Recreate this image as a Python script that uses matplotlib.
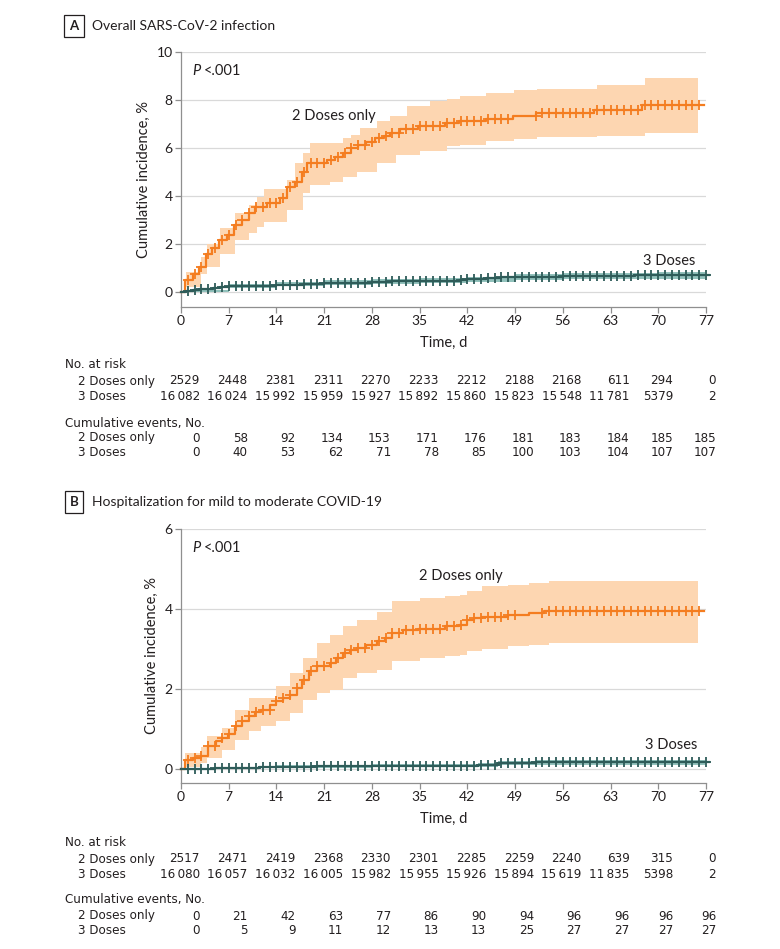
import numpy as np
import matplotlib.pyplot as plt

plt.rcParams['font.family'] = ['Lato', 'DejaVu Sans']
TABLE_FONT = dict(family='DejaVu Sans', stretch='condensed', fontsize=9.5)

# Panel A - overall infection, KM cumulative incidence (%)
a2_t = [0, 0.6, 1.8, 2.7, 3.7, 4.5, 5.5, 6.7, 7.7, 8.9, 9.9, 10.9, 12.6, 14.5, 15.5, 16.7,
        17.7, 18.5, 21.4, 22.6, 23.8, 25.0, 26.0, 27.2, 28.5, 29.7, 30.7, 32.1, 34.8, 38.7,
        40.7, 44.8, 48.7, 52.1, 60.5, 67.6, 76.7]
a2_y = [0, 0.52, 0.77, 1.05, 1.6, 1.85, 2.16, 2.37, 2.79, 3.0, 3.28, 3.55, 3.69, 3.9, 4.39, 4.6,
        5.02, 5.37, 5.48, 5.64, 5.78, 5.99, 6.13, 6.27, 6.41, 6.48, 6.62, 6.8, 6.9, 7.04,
        7.14, 7.22, 7.35, 7.46, 7.57, 7.78, 7.78]
a2_ci_t = [0.8, 3.0, 3.8, 5.7, 7.9, 9.9, 11.1, 12.1, 15.5, 16.7, 17.9, 18.9, 21.9, 23.8, 25.0,
           25.8, 26.3, 28.7, 30.7, 31.6, 33.1, 35.1, 36.5, 39.0, 40.9, 44.8, 48.8, 52.2, 61.0,
           68.1, 75.8]
a2_lo = [0.21, 0.77, 1.05, 1.6, 2.16, 2.44, 2.72, 2.93, 3.41, 3.41, 4.11, 4.46, 4.6, 4.81, 4.81,
         5.02, 5.02, 5.37, 5.37, 5.71, 5.71, 5.86, 5.86, 6.07, 6.14, 6.28, 6.39, 6.46, 6.49,
         6.63, 6.63]
a2_hi = [0.84, 1.44, 2.02, 2.65, 3.28, 3.62, 3.97, 4.29, 4.67, 5.39, 5.78, 6.2, 6.2, 6.41, 6.55,
         6.55, 6.83, 7.11, 7.32, 7.32, 7.73, 7.73, 7.94, 8.04, 8.15, 8.29, 8.43, 8.46, 8.61,
         8.92, 8.92]
a2_cens = [d for d in range(1, 77) if d not in (49, 50, 51)]

a3_t = [0, 0.7, 1.7, 2.7, 3.7, 4.7, 5.7, 7.0, 10, 14, 18, 21, 25, 28, 31, 35, 40.9, 42, 44.8,
        47, 49.2, 56, 63, 66.4, 77.4]
a3_y = [0, 0.04, 0.08, 0.11, 0.14, 0.17, 0.2, 0.24, 0.27, 0.31, 0.34, 0.37, 0.39, 0.42, 0.44,
        0.47, 0.52, 0.55, 0.6, 0.62, 0.64, 0.65, 0.67, 0.69, 0.69]
a3_ci_t = [0.7, 7, 14, 21, 28, 35, 42, 49, 56, 63, 70, 76.9]
a3_lo = [0.01, 0.17, 0.24, 0.3, 0.34, 0.37, 0.42, 0.51, 0.53, 0.54, 0.55, 0.55]
a3_hi = [0.07, 0.32, 0.42, 0.48, 0.54, 0.58, 0.64, 0.76, 0.78, 0.79, 0.82, 0.82]
a3_cens = list(range(1, 78))

# Panel B - hospitalization
b2_t = [0, 0.6, 1.8, 3.0, 3.9, 5.2, 6.0, 6.9, 7.9, 8.9, 9.9, 10.9, 11.8, 13.1, 14.0, 15.0, 16.0,
        17.0, 17.7, 18.7, 19.9, 21.9, 22.8, 23.8, 24.8, 25.8, 27.2, 28.7, 29.9, 30.9, 32.6,
        34.8, 38.7, 40.7, 41.9, 42.9, 44.1, 48.0, 51.0, 53.2, 76.7]
b2_y = [0, 0.22, 0.28, 0.33, 0.57, 0.69, 0.78, 0.88, 1.08, 1.19, 1.32, 1.42, 1.48, 1.61, 1.69,
        1.78, 1.86, 2.03, 2.23, 2.44, 2.57, 2.65, 2.78, 2.9, 2.97, 3.03, 3.11, 3.19, 3.28, 3.4,
        3.47, 3.5, 3.57, 3.61, 3.72, 3.78, 3.8, 3.86, 3.9, 3.94, 3.94]
b2_ci_t = [0.6, 3.0, 3.8, 6.0, 7.9, 9.9, 11.8, 14.0, 16.0, 17.9, 19.9, 21.9, 23.8, 25.8, 28.7,
           30.9, 35.1, 38.7, 40.9, 41.9, 44.1, 48.0, 51.0, 53.9, 75.8]
b2_lo = [0.05, 0.15, 0.28, 0.48, 0.73, 0.94, 1.07, 1.19, 1.4, 1.73, 1.9, 1.98, 2.28, 2.4, 2.48,
         2.69, 2.78, 2.82, 2.86, 2.94, 3.0, 3.07, 3.11, 3.15, 3.15]
b2_hi = [0.4, 0.55, 0.82, 1.03, 1.48, 1.78, 1.78, 2.07, 2.4, 2.78, 3.15, 3.36, 3.57, 3.73, 3.92,
         4.19, 4.28, 4.32, 4.36, 4.44, 4.57, 4.61, 4.65, 4.69, 4.69]
b2_cens = list(range(1, 50)) + list(range(53, 77))

b3_t = [0, 1, 3, 5, 7, 11.5, 14, 20, 28, 35, 43.5, 46.5, 47.5, 52, 77.4]
b3_y = [0, 0.006, 0.012, 0.02, 0.03, 0.045, 0.056, 0.068, 0.075, 0.08, 0.1, 0.14, 0.155, 0.168,
        0.168]
b3_ci_t = [1, 7, 11.5, 14, 21, 28, 35, 43.5, 46.5, 52, 76.9]
b3_lo = [0, 0.01, 0.02, 0.025, 0.035, 0.04, 0.045, 0.06, 0.09, 0.11, 0.11]
b3_hi = [0.02, 0.06, 0.08, 0.09, 0.11, 0.12, 0.125, 0.15, 0.21, 0.23, 0.23]
b3_cens = list(range(1, 78))

# risk tables
days = list(range(0, 78, 7))
a_risk2 = [2529, 2448, 2381, 2311, 2270, 2233, 2212, 2188, 2168, 611, 294, 0]
a_risk3 = [16082, 16024, 15992, 15959, 15927, 15892, 15860, 15823, 15548, 11781, 5379, 2]
a_ev2 = [0, 58, 92, 134, 153, 171, 176, 181, 183, 184, 185, 185]
a_ev3 = [0, 40, 53, 62, 71, 78, 85, 100, 103, 104, 107, 107]
b_risk2 = [2517, 2471, 2419, 2368, 2330, 2301, 2285, 2259, 2240, 639, 315, 0]
b_risk3 = [16080, 16057, 16032, 16005, 15982, 15955, 15926, 15894, 15619, 11835, 5398, 2]
b_ev2 = [0, 21, 42, 63, 77, 86, 90, 94, 96, 96, 96, 96]
b_ev3 = [0, 5, 9, 11, 12, 13, 13, 25, 27, 27, 27, 27]

ORANGE = '#F47D20'
ORANGE_CI = '#FDD6B1'
TEAL = '#2E5C59'
TEAL_CI = '#92C2BC'
GRID = '#d9d9d9'
SPINE = '#8f8f8f'
TXT = '#231f20'

W, H = 780, 949
fig = plt.figure(figsize=(W / 100, H / 100), dpi=100)


def fy(y):
    return 1 - y / H


def fmt(n):
    s = str(n)
    if n >= 10000:
        s = s[:-3] + '\u2009' + s[-3:]
    return s


def curve(ax, t, y, ci_t, lo, hi, cens, col, cicol):
    ax.fill_between(ci_t, lo, hi, step='post', color=cicol, lw=0, zorder=1)
    ax.step(t, y, where='post', color=col, lw=1.6, zorder=3, clip_on=False)
    t = np.array(t)
    y = np.array(y)
    idx = np.searchsorted(t, cens, side='right') - 1
    ax.plot(cens, y[idx], ls='none', marker='+', ms=6.5, mew=1.3, color=col, zorder=4,
            clip_on=False)


def panel(ax, letter, title, title_y, ytop, ybot, yticks, data, lab2, lab3, table, rows_y):
    ax.set_xlim(0, 77)
    ax.set_ylim(ybot, ytop)
    ax.set_xticks(days)
    ax.set_yticks(yticks)
    ax.grid(axis='y', color=GRID, lw=0.9)
    ax.set_axisbelow(True)
    for s in ('top', 'right'):
        ax.spines[s].set_visible(False)
    for s in ('left', 'bottom'):
        ax.spines[s].set_color(SPINE)
        ax.spines[s].set_linewidth(0.9)
    ax.tick_params(length=4, width=0.9, color=SPINE, labelsize=10, labelcolor=TXT, pad=2)
    ax.set_xlabel('Time, d', fontsize=10.5, color=TXT, labelpad=6)
    ax.set_ylabel('Cumulative incidence, %', fontsize=10.5, color=TXT, labelpad=4)

    for args in data:
        curve(ax, *args)

    ax.text(lab2[0], lab2[1], '2 Doses only', fontsize=10.5, color=TXT, ha='center', va='center')
    ax.text(lab3[0], lab3[1], '3 Doses', fontsize=10.5, color=TXT, ha='right', va='center')
    ax.annotate('P', xy=(0, 1), xycoords='axes fraction', xytext=(8, -13.5),
                textcoords='offset points', fontsize=10.5, style='italic', color=TXT, va='center')
    ax.annotate('<.001', xy=(0, 1), xycoords='axes fraction', xytext=(16.5, -13.5),
                textcoords='offset points', fontsize=10.5, color=TXT, va='center')

    fig.text(74 / W, fy(title_y), letter, fontsize=9.5, weight='bold', color=TXT, ha='center',
             va='center', bbox=dict(boxstyle='square,pad=0.38', fc='white', ec=TXT, lw=0.9))
    fig.text(92 / W, fy(title_y), title, fontsize=10, color=TXT, va='center')

    heads = ['No. at risk', None, None, 'Cumulative events, No.', None, None]
    names = [None, '2 Doses only', '3 Doses', None, '2 Doses only', '3 Doses']
    offs = [19] * 10 + [15, 10]
    k = 0
    for i, ry in enumerate(rows_y):
        if heads[i]:
            fig.text(65 / W, fy(ry), heads[i], color=TXT, va='center', **TABLE_FONT)
            continue
        fig.text(78 / W, fy(ry), names[i], color=TXT, va='center', **TABLE_FONT)
        vals = table[k]
        k += 1
        for d, v, o in zip(days, vals, offs):
            ax.annotate(fmt(v), xy=(d, fy(ry)), xycoords=('data', 'figure fraction'),
                        xytext=(o * 0.72, 0), textcoords='offset points', ha='right',
                        va='center', color=TXT, annotation_clip=False, **TABLE_FONT)


axA = fig.add_axes([181 / W, fy(307), 525 / W, 255 / H])
axB = fig.add_axes([181 / W, fy(783), 525 / W, 254 / H])

panel(axA, 'A', 'Overall SARS-CoV-2 infection', 26, 10, -0.625, [0, 2, 4, 6, 8, 10],
      [(a2_t, a2_y, a2_ci_t, a2_lo, a2_hi, a2_cens, ORANGE, ORANGE_CI),
       (a3_t, a3_y, a3_ci_t, a3_lo, a3_hi, a3_cens, TEAL, TEAL_CI)],
      (22.4, 7.33), (75.5, 1.29),
      [a_risk2, a_risk3, a_ev2, a_ev3], [365, 381, 397, 423, 438, 453])

panel(axB, 'B', 'Hospitalization for mild to moderate COVID-19', 502, 6, -0.35, [0, 2, 4, 6],
      [(b2_t, b2_y, b2_ci_t, b2_lo, b2_hi, b2_cens, ORANGE, ORANGE_CI),
       (b3_t, b3_y, b3_ci_t, b3_lo, b3_hi, b3_cens, TEAL, TEAL_CI)],
      (41.1, 4.83), (75.8, 0.6),
      [b_risk2, b_risk3, b_ev2, b_ev3], [843, 859, 875, 900, 916, 931])

fig.savefig('out.png', dpi=100)
